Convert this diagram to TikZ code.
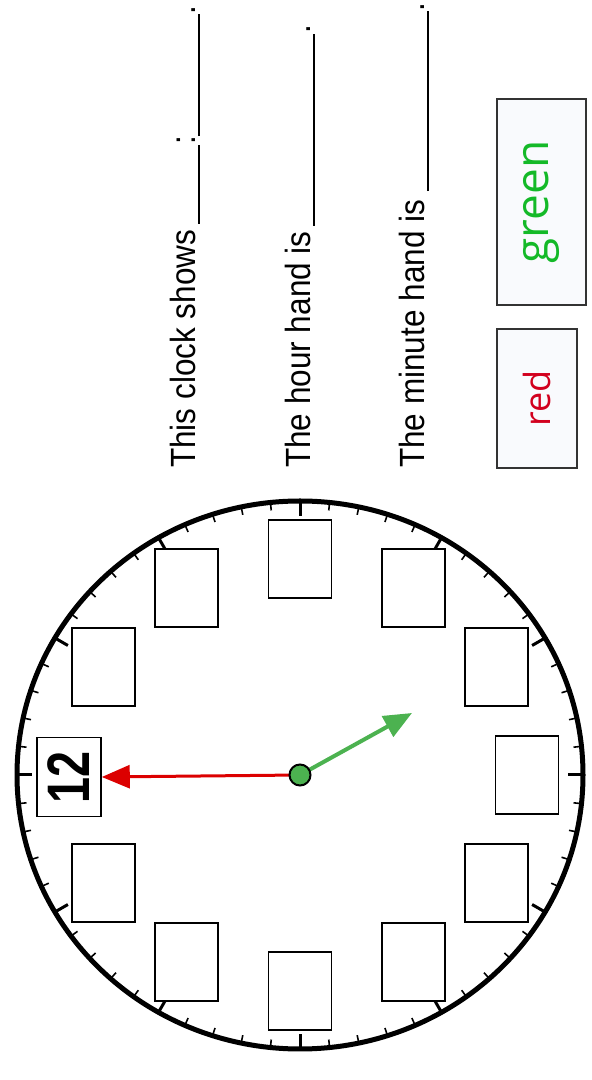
\documentclass[tikz,border=0pt]{standalone}
\usepackage{fontspec}
\setmainfont{Liberation Sans}
\newfontfamily\labelfont[FakeStretch=0.9]{Liberation Sans}
\newfontfamily\numfont[FakeStretch=0.78]{Liberation Sans}
\newfontfamily\keyfont{Open Sans}
\usetikzlibrary{arrows.meta, positioning, calc}
\definecolor{hand_red}{RGB}{220, 0, 0}
\definecolor{hand_green}{RGB}{76, 178, 80}
\definecolor{key_green}{RGB}{20, 185, 40}
\definecolor{key_red}{RGB}{210, 0, 30}
\definecolor{key_fill}{RGB}{249, 250, 253}
\tikzstyle{numbox} = [rectangle, draw=black, line width=1.6pt, fill=white, minimum width=63pt, minimum height=78pt, inner sep=0pt]
\tikzstyle{question} = [anchor=base west, rotate=90, inner sep=0pt, font=\labelfont\fontsize{35}{40}\selectfont]
\tikzstyle{keybox} = [rectangle, rotate=90, draw=black!80, line width=1.4pt, fill=key_fill, inner sep=0pt]
\tikzstyle{minortick} = [line width=1.6pt]
\tikzstyle{hourtick} = [line width=3pt]
\tikzstyle{hand} = [-{Triangle[length=28pt,width=23pt]}]

\begin{document}
\begin{tikzpicture}[x=1pt, y=1pt]
\useasboundingbox (0,0) rectangle (592,1080);

% Clock face
\coordinate (centre) at (300,305);
\draw[line width=5pt] (centre) ellipse [x radius=283pt, y radius=274pt];
\foreach \t in {0,6,...,354}
  \draw[minortick] ({300+283*cos(\t)},{305+274*sin(\t)}) -- ({300+275*cos(\t)},{305+266*sin(\t)});
\foreach \t in {0,30,...,330}
  \draw[hourtick] ({300+283*cos(\t)},{305+274*sin(\t)}) -- ({300+268*cos(\t)},{305+259*sin(\t)});

% Number boxes
\foreach \h in {1,...,11}
  \node[numbox] (h\h) at ({300+227*cos(180-30*\h)},{305+216*sin(180-30*\h)}) {};
\node[numbox, minimum width=64pt, minimum height=79pt] (h12) at (69,303) {};
\node[rotate=90, inner sep=0pt, font=\numfont\bfseries\fontsize{60}{62}\selectfont] (twelve) at (h12.center) {12};

% Hands
\coordinate (tip) at (412,367);
\draw[hand, line width=3pt, hand_red] (centre) -- (h12.east);
\draw[hand, line width=4pt, hand_green] (centre) -- (tip);
\node[circle, draw=black, line width=2pt, fill=hand_green, minimum size=21pt, inner sep=0pt] (hub) at (centre) {};

% Questions
\node[question] (q1) at (195,612) {This clock shows\,\rule[-4.7pt]{79pt}{1.4pt}:\rule[-4.7pt]{122pt}{1.4pt}.};
\node[question] (q2) at (310,612) {The hour hand is\,\rule[-4.7pt]{192pt}{1.4pt}.};
\node[question] (q3) at (424,612) {The minute hand is \rule[-4.7pt]{180pt}{1.4pt}.};

% Colour key
\node[keybox, minimum width=206pt, minimum height=89pt, font=\keyfont\fontsize{46}{50}\selectfont, text=key_green] (greenkey) at (541.5,878) {green};
\node[keybox, minimum width=139pt, minimum height=80pt, font=\keyfont\fontsize{36}{40}\selectfont, text=key_red] (redkey) at (537,681.5) {red};

\end{tikzpicture}
\end{document}
